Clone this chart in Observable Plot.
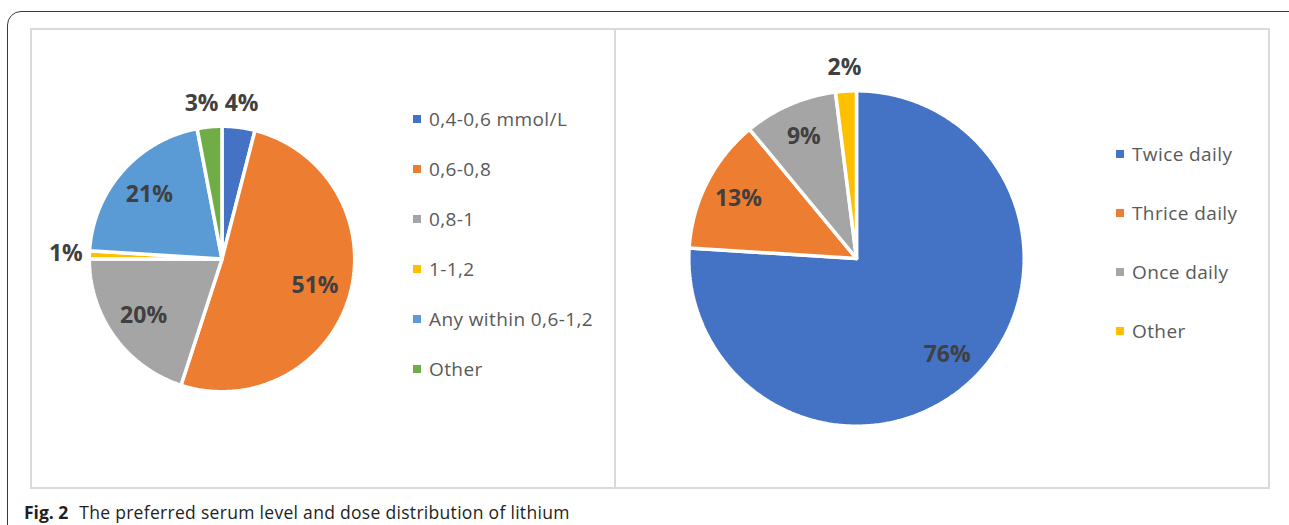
<!DOCTYPE html>
<html>
<head>
<meta charset="utf-8">
<script src="https://cdn.jsdelivr.net/npm/d3@7"></script>
<script src="https://cdn.jsdelivr.net/npm/@observablehq/plot@0.6"></script>
<style>
  html, body { margin: 0; padding: 0; background: #fff; }
  #page { position: relative; width: 1289px; height: 525px; overflow: hidden; font-family: "Open Sans", sans-serif; }
  .outer { position: absolute; left: 7px; top: 11px; width: 1300px; height: 560px; border: 1.3px solid #3a3a3a; border-radius: 14px; box-sizing: border-box; }
  .panel { position: absolute; border: 2px solid #dadada; box-sizing: border-box; }
  .pie { position: absolute; }
  .pie svg { overflow: visible; }
  .leg { position: absolute; color: #595959; font-size: 19px; letter-spacing: 0.4px; white-space: nowrap; }
  .leg .item { position: absolute; left: 0; height: 24px; line-height: 24px; display: flex; align-items: center; }
  .leg .sw { width: 8px; height: 8px; margin-right: 8px; }
  .caption { position: absolute; left: 24px; top: 500px; font-size: 17.5px; letter-spacing: 0.3px; color: #231f20; white-space: nowrap; }
  .caption b { font-weight: 700; margin-right: 6px; letter-spacing: 0; }
</style>
</head>
<body>
<div id="page">
  <div class="outer"></div>
  <div class="panel" style="left:30px;top:28px;width:586px;height:461px"></div>
  <div class="panel" style="left:614px;top:28px;width:656px;height:461px"></div>
  <div id="pie1" class="pie" style="left:49px;top:86px"></div>
  <div id="pie2" class="pie" style="left:638px;top:40px"></div>
  <div id="leg1" class="leg" style="left:413px;top:107px"></div>
  <div id="leg2" class="leg" style="left:1116px;top:142px"></div>
  <div class="caption"><b>Fig. 2</b> The preferred serum level and dose distribution of lithium</div>
</div>
<script>
// ---- Data ----
const serumCategories = ["0,4-0,6 mmol/L", "0,6-0,8", "0,8-1", "1-1,2", "Any within 0,6-1,2", "Other"];
const serumValues = [4, 51, 20, 1, 21, 3];
const serumColors = ["#4472C4", "#ED7D31", "#A5A5A5", "#FFC000", "#5B9BD5", "#70AD47"];

const doseCategories = ["Twice daily", "Thrice daily", "Once daily", "Other"];
const doseValues = [76, 13, 9, 2];
const doseColors = ["#4472C4", "#ED7D31", "#A5A5A5", "#FFC000"];

function pieChart(categories, values, colors, size, insideR) {
  const rows = categories.map((name, i) => ({name, value: values[i]}));
  const arcs = d3.pie().sort(null).value(d => d.value)(rows);
  const unitPx = size / 2.6;              // pixels per unit radius
  const outsideR = 1 + 23.5 / unitPx;     // outside labels a fixed pixel gap beyond the rim
  const minSep = 40 / unitPx;             // minimal centre distance between neighbouring outside labels
  const pts = [];
  const labels = [];
  const total = d3.sum(values);
  for (const a of arcs) {
    const name = a.data.name;
    pts.push({name, x: 0, y: 0});
    const n = Math.max(4, Math.ceil((a.endAngle - a.startAngle) / 0.01));
    for (let k = 0; k <= n; k++) {
      const t = a.startAngle + (a.endAngle - a.startAngle) * k / n;
      pts.push({name, x: Math.sin(t), y: Math.cos(t)});
    }
    pts.push({name, x: 0, y: 0});
    const mid = (a.startAngle + a.endAngle) / 2;
    const pct = a.data.value / total * 100;
    const outside = pct < 5;
    const lr = outside ? outsideR : insideR;
    labels.push({x: Math.sin(mid) * lr, y: Math.cos(mid) * lr, text: Math.round(pct) + "%", outside});
  }
  // simple collision avoidance for outside labels near the top
  const outs = labels.filter(d => d.outside);
  for (let i = 0; i < outs.length; i++) {
    for (let j = 0; j < i; j++) {
      const a = outs[j], b = outs[i];
      if (Math.abs(a.y - b.y) < 0.15 && Math.abs(a.x - b.x) < minSep) {
        b.x = b.x < a.x ? a.x - minSep : a.x + minSep;
      }
    }
  }
  return Plot.plot({
    width: size, height: size, margin: 0,
    x: {domain: [-1.3, 1.3], axis: null},
    y: {domain: [-1.3, 1.3], axis: null},
    color: {domain: categories, range: colors},
    style: {background: "transparent", overflow: "visible"},
    marks: [
      Plot.line(pts, {x: "x", y: "y", z: "name", fill: "name", stroke: "white", strokeWidth: 3.5, strokeLinejoin: "miter", curve: "linear"}),
      Plot.text(labels, {x: "x", y: "y", text: "text", fontSize: 23, fontWeight: 700, fill: "#404040", fontFamily: "Open Sans, sans-serif"})
    ]
  });
}

function legend(el, categories, colors, step) {
  categories.forEach((c, i) => {
    const item = document.createElement("div");
    item.className = "item";
    item.style.top = (i * step) + "px";
    const sw = document.createElement("span");
    sw.className = "sw";
    sw.style.background = colors[i];
    const tx = document.createElement("span");
    tx.textContent = c;
    item.appendChild(sw);
    item.appendChild(tx);
    el.appendChild(item);
  });
}

document.getElementById("pie1").appendChild(pieChart(serumCategories, serumValues, serumColors, 345, 0.73));
document.getElementById("pie2").appendChild(pieChart(doseCategories, doseValues, doseColors, 436, 0.79));
legend(document.getElementById("leg1"), serumCategories, serumColors, 50);
legend(document.getElementById("leg2"), doseCategories, doseColors, 59);
</script>
</body>
</html>
